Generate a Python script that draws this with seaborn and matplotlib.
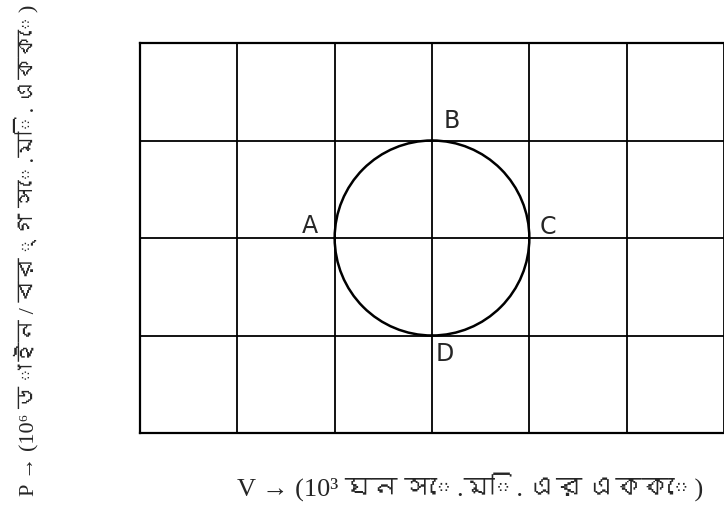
import matplotlib
matplotlib.use("Agg")
import matplotlib.pyplot as plt
from matplotlib import font_manager
from matplotlib.patches import Ellipse
import seaborn as sns
import pandas as pd

# Cycle vertices in (V, P) grid units
point_names = ["A", "B", "C", "D"]
volume = [2, 3, 4, 3]
pressure = [2, 3, 2, 1]

# Grid extent (number of cells)
v_cells = 6
p_cells = 4

x_label = "V \u2192 (10\u00b3 ঘন সে.মি. এর এককে)"
y_label = "P \u2192 (10\u2076 ডাইন / বর্গ সে.মি. এককে)"


def bengali_families():
    found = []
    try:
        from fontTools.ttLib import TTFont
    except Exception:
        return found
    for path in font_manager.findSystemFonts():
        try:
            f = TTFont(path, fontNumber=0, lazy=True)
            cmap = f.getBestCmap() or {}
            if 0x0995 in cmap:
                name = font_manager.FontProperties(fname=path).get_name()
                if name not in found:
                    found.append(name)
        except Exception:
            continue
    return found


sns.set_theme(style="white")
label_fonts = ["Liberation Serif"] + bengali_families() + ["DejaVu Sans"]
plt.rcParams["font.family"] = label_fonts

df = pd.DataFrame({"V": volume, "P": pressure, "name": point_names})

fig = plt.figure(figsize=(7.24, 5.11), dpi=100)
ax = fig.add_axes([140 / 724, 1 - 433 / 511, 1 - 140 / 724, (433 - 43) / 511])

ax.set_xlim(0, v_cells)
ax.set_ylim(0, p_cells)
ax.set_xticks(range(v_cells + 1))
ax.set_yticks(range(p_cells + 1))
ax.tick_params(length=0, labelbottom=False, labelleft=False)
ax.grid(True, color="black", linewidth=1.3)

for side in ["left", "top", "bottom"]:
    ax.spines[side].set_color("black")
    ax.spines[side].set_linewidth(1.6)
ax.spines["right"].set_visible(False)

# Closed cycle passing through A, B, C, D
cx = sum(volume) / len(volume)
cy = sum(pressure) / len(pressure)
w = max(volume) - min(volume)
h = max(pressure) - min(pressure)
ax.add_patch(Ellipse((cx, cy), w, h, fill=False, edgecolor="black", linewidth=1.8, zorder=3))

sns.scatterplot(data=df, x="V", y="P", color="black", s=4, edgecolor="none", ax=ax, zorder=4, legend=False)

offsets = {"A": (-18, 9), "B": (14, 14), "C": (13, 8), "D": (9, -13)}
for name, v, p in zip(point_names, volume, pressure):
    ax.annotate(name, (v, p), xytext=offsets[name], textcoords="offset points",
                ha="center", va="center", fontsize=17, family=["DejaVu Sans"], zorder=5)

ax.set_xlabel("")
ax.set_ylabel("")
fig.text(470 / 724, 1 - 487 / 511, x_label, ha="center", va="center", fontsize=19)
fig.text(26 / 724, 1 - 250 / 511, y_label, ha="center", va="center", rotation=90, fontsize=16)

fig.savefig("out.png", dpi=100, facecolor="white")
